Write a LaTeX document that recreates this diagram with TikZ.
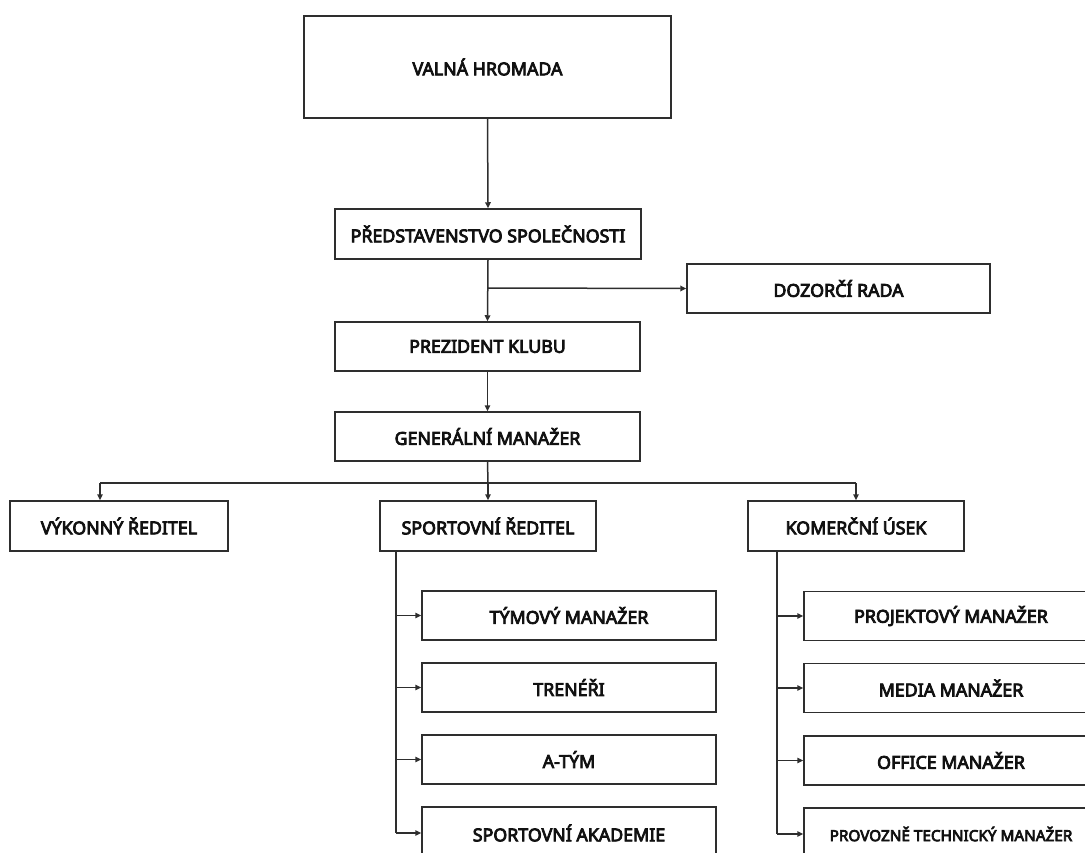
\documentclass[tikz,border=0pt]{standalone}
\usepackage{fontspec}
\newfontfamily\lbl{Noto Sans}[FakeBold=4.5]
\usetikzlibrary{arrows.meta}
\definecolor{ink}{HTML}{2E2E2E}
\definecolor{txt}{HTML}{111111}
\tikzset{
  box/.style={draw=ink, line width=1.5pt, fill=white, inner sep=0pt,
              text=txt, font=\lbl\fontsize{17.8}{21}\selectfont, align=center},
  link/.style={draw=ink, line width=1.5pt},
  arr/.style={link, -{Triangle[length=6pt,width=5.5pt]}}
}
\begin{document}
\begin{tikzpicture}[x=1pt,y=-1pt]
\useasboundingbox (0,0) rectangle (1085,853);
\clip (0,0) rectangle (1085,853);
% board levels
\node[box, minimum width=367pt, minimum height=102pt] (vh) at (487.5,67) {VALNÁ HROMADA};
\node[box, minimum width=306pt, minimum height=50pt] (ps) at (488,234) {PŘEDSTAVENSTVO SPOLEČNOSTI};
\node[box, minimum width=303pt, minimum height=49pt] (dr) at (838.5,288.5) {DOZORČÍ RADA};
\node[box, minimum width=305pt, minimum height=49pt] (pk) at (487.5,346.5) {PREZIDENT KLUBU};
\node[box, minimum width=305pt, minimum height=49pt] (gm) at (487.5,436.5) {GENERÁLNÍ MANAŽER};
% directors
\node[box, minimum width=218pt, minimum height=50pt] (vr) at (119,526) {VÝKONNÝ ŘEDITEL};
\node[box, minimum width=216pt, minimum height=50pt] (sr) at (488,526) {SPORTOVNÍ ŘEDITEL};
\node[box, minimum width=216pt, minimum height=50pt] (ku) at (856,526) {KOMERČNÍ ÚSEK};
% sport section
\node[box, minimum width=294pt, minimum height=49pt] (tm) at (569,615.5) {TÝMOVÝ MANAŽER};
\node[box, minimum width=294pt, minimum height=49pt] (tr) at (569,687.5) {TRENÉŘI};
\node[box, minimum width=294pt, minimum height=49pt] (at) at (569,759.5) {A-TÝM};
\node[box, minimum width=294pt, minimum height=52pt] (sa) at (569,833) {SPORTOVNÍ AKADEMIE};
% commercial section
\node[box, minimum width=294pt, minimum height=49pt] (pm) at (951,616) {PROJEKTOVÝ MANAŽER};
\node[box, minimum width=294pt, minimum height=49pt] (mm) at (951,688) {MEDIA MANAŽER};
\node[box, minimum width=294pt, minimum height=49pt] (om) at (951,760.5) {OFFICE MANAŽER};
\node[box, minimum width=294pt, minimum height=52pt, font=\lbl\fontsize{15.3}{18}\selectfont] (pt) at (951,834) {PROVOZNĚ TECHNICKÝ MANAŽER};
% junctions
\coordinate (j1) at (488,288);
\coordinate (j2) at (488,483);
\coordinate (jl) at (100,483);
\coordinate (sl) at (396,551);
\coordinate (kl) at (777,551);
% connectors
\draw[arr] (vh.south) -- (ps.north);
\draw[arr] (ps.south) -- (pk.north);
\draw[arr] (j1) -- (dr.west);
\draw[arr] (pk.south) -- (gm.north);
\draw[link] (gm.south) -- (j2);
\draw[link] (jl) -- (ku.north |- j2);
\draw[arr] (jl) -- (jl |- vr.north);
\draw[arr] (j2) -- (sr.north);
\draw[arr] (ku.north |- j2) -- (ku.north);
\draw[link] (sl) -- (sl |- sa.west);
\foreach \n in {tm,tr,at,sa} \draw[arr] (sl |- \n.west) -- (\n.west);
\draw[link] (kl) -- (kl |- pt.west);
\foreach \n in {pm,mm,om,pt} \draw[arr] (kl |- \n.west) -- (\n.west);
\end{tikzpicture}
\end{document}
